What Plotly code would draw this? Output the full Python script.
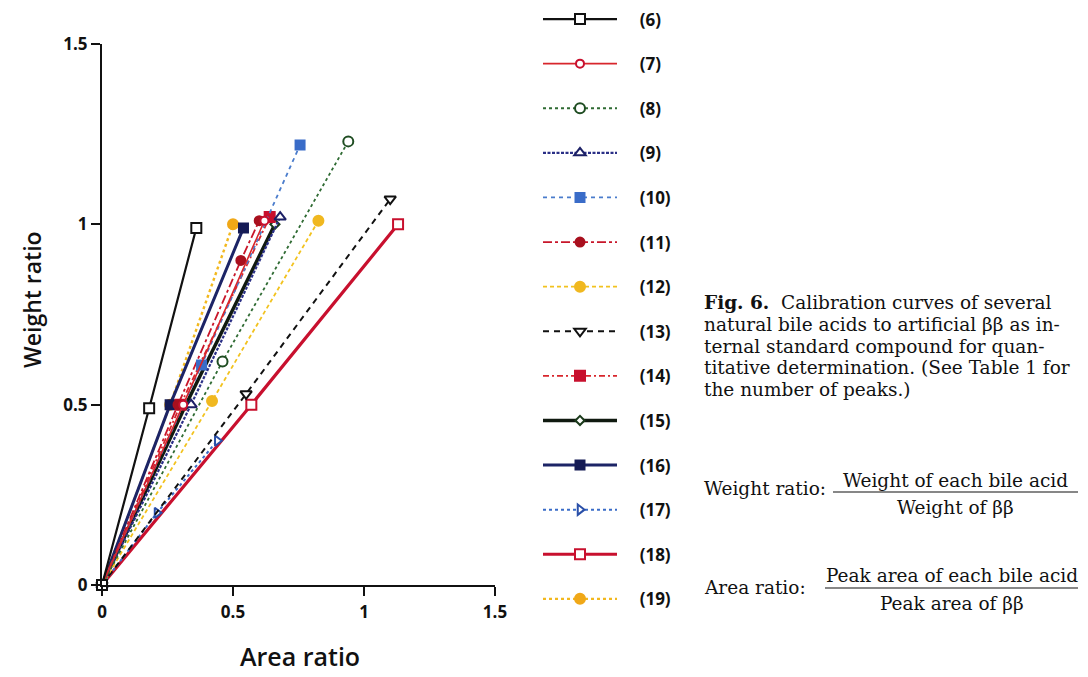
import plotly.graph_objects as go

# ---------------- data ----------------
labels = ["(6)", "(7)", "(8)", "(9)", "(10)", "(11)", "(12)", "(13)", "(14)",
          "(15)", "(16)", "(17)", "(18)", "(19)"]

x6 = [0, 0.18, 0.36];   y6 = [0, 0.49, 0.99]
x7 = [0, 0.31, 0.62];   y7 = [0, 0.50, 1.01]
x8 = [0, 0.46, 0.94];   y8 = [0, 0.62, 1.23]
x9 = [0, 0.34, 0.68];   y9 = [0, 0.50, 1.02]
x10 = [0, 0.38, 0.756]; y10 = [0, 0.61, 1.22]
x11 = [0, 0.29, 0.53, 0.60]; y11 = [0, 0.50, 0.90, 1.01]
x12 = [0, 0.42, 0.826]; y12 = [0, 0.51, 1.01]
x13 = [0, 0.55, 1.10];  y13 = [0, 0.53, 1.07]
x14 = [0, 0.30, 0.64];  y14 = [0, 0.50, 1.02]
x15 = [0, 0.32, 0.66];  y15 = [0, 0.50, 1.00]
x16 = [0, 0.26, 0.54];  y16 = [0, 0.50, 0.99]
x17 = [0, 0.21, 0.44];  y17 = [0, 0.20, 0.40]
x18 = [0, 0.57, 1.13];  y18 = [0, 0.50, 1.00]
x19 = [0, 0.26, 0.50];  y19 = [0, 0.50, 1.00]

xs = [x6, x7, x8, x9, x10, x11, x12, x13, x14, x15, x16, x17, x18, x19]
ys = [y6, y7, y8, y9, y10, y11, y12, y13, y14, y15, y16, y17, y18, y19]

axis_ticks = [0, 0.5, 1, 1.5]
axis_ticktext = ["0", "0.5", "1", "1.5"]
x_title = "Area ratio"
y_title = "Weight ratio"

# ---------------- styles ----------------
# fill = marker fill colour, edge = marker outline colour
styles = [
    dict(color="#111111", dash="solid", width=2.2, symbol="square", msize=10, fill="white", edge="#111111"),
    dict(color="#d8262c", dash="solid", width=1.6, symbol="circle", msize=8, fill="white", edge="#c8102e"),
    dict(color="#2f6b33", dash="dot", width=1.8, symbol="circle", msize=10, fill="white", edge="#1f4d22"),
    dict(color="#2a2f86", dash="3px,1.5px", width=2.2, symbol="triangle-up", msize=10, fill="white", edge="#1c2066"),
    dict(color="#4a7ccc", dash="4px,4px", width=1.8, symbol="square", msize=9, fill="#3a6cc8", edge="#3a6cc8"),
    dict(color="#c8162a", dash="dashdot", width=1.8, symbol="circle", msize=9, fill="#a8101e", edge="#a8101e"),
    dict(color="#f2c21e", dash="4px,3px", width=1.8, symbol="circle", msize=10, fill="#f0b820", edge="#f0b820"),
    dict(color="#111111", dash="6px,5px", width=2.0, symbol="triangle-down", msize=10, fill="white", edge="#111111"),
    dict(color="#d8262c", dash="6px,3px,2px,3px", width=1.8, symbol="square-dot", msize=10, fill="#c8102e", edge="#c8102e"),
    dict(color="#101a10", dash="solid", width=3.5, symbol="diamond", msize=7, fill="white", edge="#1a3a1a"),
    dict(color="#1c2466", dash="solid", width=3.0, symbol="square", msize=9, fill="#141a55", edge="#141a55"),
    dict(color="#3a6cc8", dash="dot", width=2.0, symbol="triangle-right", msize=9, fill="white", edge="#2a4fa8"),
    dict(color="#c8102e", dash="solid", width=3.2, symbol="square", msize=10, fill="white", edge="#c8102e"),
    dict(color="#f2b81e", dash="dot", width=2.4, symbol="circle-dot", msize=10, fill="#f0a818", edge="#f0a818"),
]

NB = "\u00a0"
fig = go.Figure()
# draw the last series first so that (6) sits on top at the origin; legend order kept by rank
order = list(range(len(labels)))[::-1]
for i in order:
    lab, xx, yy, st = labels[i], xs[i], ys[i], styles[i]
    fig.add_trace(go.Scatter(
        x=xx, y=yy, name=NB * 4 + lab, mode="lines+markers", legendgroup=lab,
        legendrank=i + 1,
        line=dict(color=st["color"], dash=st["dash"], width=st["width"]),
        marker=dict(symbol=st["symbol"], size=st["msize"], color=st["fill"],
                    line=dict(width=2, color=st["edge"])),
        cliponaxis=False,
    ))

W, H = 1088, 677
OFF = 8  # page body margin in the screenshot
# target plot area in screenshot pixels
PX0, PX1, PY0, PY1 = 102, 495, 44, 585
L = PX0 - OFF
R = W - (PX1 - OFF)
T = PY0 - OFF
B = H - (PY1 - OFF)


def px(xs_):
    return (xs_ - PX0) / (PX1 - PX0)


def py(ys_):
    return (PY1 - ys_) / (PY1 - PY0)


tick_font = dict(family="Open Sans", size=17, color="#111111", weight="bold")
axis_common = dict(
    range=[0, 1.5], tickvals=axis_ticks, ticktext=axis_ticktext,
    showline=True, linewidth=2, linecolor="#111111", mirror=False,
    ticks="outside", ticklen=9, tickwidth=2, tickcolor="#111111",
    showgrid=False, zeroline=False, tickfont=tick_font,
)

fig.update_layout(
    width=W, height=H,
    margin=dict(l=L, r=R, t=T, b=B, autoexpand=False),
    paper_bgcolor="white", plot_bgcolor="white",
    xaxis=dict(**axis_common, ticklabelstandoff=2),
    yaxis=dict(**axis_common),
    showlegend=True,
    legend=dict(
        xref="paper", yref="paper",
        x=px(538), y=py(1.5), xanchor="left", yanchor="top",
        font=dict(family="Open Sans", size=17, color="#111111", weight="bold"),
        itemwidth=74, tracegroupgap=19.5, bgcolor="rgba(0,0,0,0)",
        maxheight=H, itemclick=False, itemdoubleclick=False,
    ),
)

fig.add_annotation(text=x_title, x=px(300), y=py(656), xref="paper", yref="paper",
                   xanchor="center", yanchor="middle", showarrow=False,
                   font=dict(family="Open Sans", size=25, color="#111111", weight=600))
fig.add_annotation(text=y_title, x=px(32), y=py(300), xref="paper", yref="paper",
                   xanchor="center", yanchor="middle", showarrow=False,
                   font=dict(family="Open Sans", size=23, color="#111111", weight=600),
                   textangle=-90)

serif = "DejaVu Serif, Liberation Serif, serif"
cap_size = 18.5
caption_lines = [
    "<b>Fig. 6.</b>  Calibration curves of several",
    "natural bile acids to artificial ββ as in-",
    "ternal standard compound for quan-",
    "titative determination. (See Table 1 for",
    "the number of peaks.)",
]
cap_y = [302, 324, 346, 367, 389]
for line, yv in zip(caption_lines, cap_y):
    fig.add_annotation(text=line, x=px(702), y=py(yv), xref="paper", yref="paper",
                       xanchor="left", yanchor="middle", showarrow=False,
                       font=dict(family=serif, size=cap_size, color="#111111"))

# fractions
frac_items = [
    ("Weight ratio:", 702, 488, "Weight of each bile acid", 480, "Weight of ββ", 507, 833, 1078, 492),
    ("Area ratio:", 702, 587, "Peak area of each bile acid", 575, "Peak area of ββ", 603, 825, 1078, 588),
]
for lab, lx, ly, num, ny, den, dy, fx0, fx1, fy in frac_items:
    fig.add_annotation(text=lab, x=px(lx), y=py(ly), xref="paper", yref="paper",
                       xanchor="left", yanchor="middle", showarrow=False,
                       font=dict(family=serif, size=cap_size, color="#111111"))
    cx = (fx0 + fx1) / 2
    fig.add_annotation(text=num, x=px(cx), y=py(ny), xref="paper", yref="paper",
                       xanchor="center", yanchor="middle", showarrow=False,
                       font=dict(family=serif, size=cap_size, color="#111111"))
    fig.add_annotation(text=den, x=px(cx), y=py(dy), xref="paper", yref="paper",
                       xanchor="center", yanchor="middle", showarrow=False,
                       font=dict(family=serif, size=cap_size, color="#111111"))
    fig.add_shape(type="line", xref="paper", yref="paper",
                  x0=px(fx0), x1=px(fx1), y0=py(fy), y1=py(fy),
                  line=dict(color="#111111", width=1.2))

fig.write_html("out.html")
